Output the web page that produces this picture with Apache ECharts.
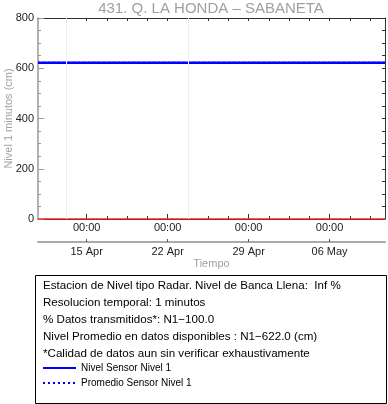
<!DOCTYPE html>
<html><head><meta charset="utf-8">
<script src="https://cdn.jsdelivr.net/npm/echarts@6/dist/echarts.min.js"></script>
<style>html,body{margin:0;padding:0;background:#fff}#c{width:388px;height:404px}</style>
</head><body><div id="c"></div>
<script>
const title = '431. Q. LA HONDA \u2013 SABANETA';
const times = ['2024-04-10T19:00Z','2024-04-11T19:00Z','2024-04-12T19:00Z','2024-04-13T19:00Z','2024-04-14T19:00Z','2024-04-15T19:00Z','2024-04-16T19:00Z','2024-04-17T19:00Z','2024-04-18T19:00Z','2024-04-19T19:00Z','2024-04-20T19:00Z','2024-04-21T19:00Z','2024-04-22T19:00Z','2024-04-23T19:00Z','2024-04-24T19:00Z','2024-04-25T19:00Z','2024-04-26T19:00Z','2024-04-27T19:00Z','2024-04-28T19:00Z','2024-04-29T19:00Z','2024-04-30T19:00Z','2024-05-01T19:00Z','2024-05-02T19:00Z','2024-05-03T19:00Z','2024-05-04T19:00Z','2024-05-05T19:00Z','2024-05-06T19:00Z','2024-05-07T19:00Z','2024-05-08T19:00Z','2024-05-09T19:00Z','2024-05-10T19:00Z'];
const nivel = [622,622,622,622,622,622,622,622,622,622,622,622,622,622,622,622,622,622,622,622,622,622,622,622,622,622,622,622,622,622,622];
const promedio = 622.0;
const bancaLlena = 0;
const majorTicks = ['2024-04-15T00:00Z','2024-04-22T00:00Z','2024-04-29T00:00Z','2024-05-06T00:00Z'];
const timeLabels = ['00:00','00:00','00:00','00:00'];
const dateLabels = ['15 Apr','22 Apr','29 Apr','06 May'];
const minorTicks = ['2024-04-13T06:00Z','2024-04-15T00:00Z','2024-04-16T18:00Z','2024-04-18T12:00Z','2024-04-20T06:00Z','2024-04-22T00:00Z','2024-04-23T18:00Z','2024-04-25T12:00Z','2024-04-27T06:00Z','2024-04-29T00:00Z','2024-04-30T18:00Z','2024-05-02T12:00Z','2024-05-04T06:00Z','2024-05-06T00:00Z','2024-05-07T18:00Z','2024-05-09T12:00Z'];
const gridDates = ['2024-04-13T06:00Z','2024-04-23T18:00Z'];
const infoLines = [
  'Estacion de Nivel tipo Radar. Nivel de Banca Llena:  Inf %',
  'Resolucion temporal: 1 minutos',
  '% Datos transmitidos*: N1\u2212100.0',
  'Nivel Promedio en datos disponibles : N1\u2212622.0 (cm)',
  '*Calidad de datos aun sin verificar exhaustivamente'
];
const seriesNames = ['Nivel Sensor Nivel 1','Promedio Sensor Nivel 1'];

const tms = times.map(t => Date.parse(t));
const xMin = tms[0], xMax = tms[tms.length - 1];
const majV = majorTicks.map(t => Date.parse(t));
const minV = minorTicks.map(t => Date.parse(t));
const FONT = '"Liberation Sans", Arial, sans-serif';

function xAx(extra) {
  return Object.assign({type: 'value', min: xMin, max: xMax, gridIndex: 0, splitLine: {show: false}}, extra);
}
const chart = echarts.init(document.getElementById('c'), null, {renderer: 'canvas'});
chart.setOption({
  animation: false,
  backgroundColor: '#fff',
  textStyle: {fontFamily: FONT},
  title: {text: title, left: 211, top: 1, textAlign: 'center', padding: 0,
    textStyle: {fontFamily: FONT, fontSize: 15, lineHeight: 15, fontWeight: 'normal', color: '#a0a0a0'}},
  grid: {left: 38, right: 3, top: 18, bottom: 185, containLabel: false, outerBoundsMode: 'none'},
  xAxis: [
    xAx({position: 'bottom', axisLine: {lineStyle: {color: '#333', width: 1}},
      axisTick: {inside: true, length: 5, customValues: majV, lineStyle: {color: '#333'}},
      axisLabel: {customValues: majV, margin: 3, fontSize: 11, color: '#222', fontFamily: FONT,
        formatter: v => timeLabels[majV.indexOf(v)] || ''}}),
    xAx({position: 'bottom', axisLine: {show: false},
      axisTick: {inside: true, length: 3, customValues: minV, lineStyle: {color: '#333'}},
      axisLabel: {show: false}}),
    xAx({position: 'top', axisLine: {lineStyle: {color: '#333', width: 1}},
      axisTick: {inside: true, length: 3, customValues: minV, lineStyle: {color: '#333'}},
      axisLabel: {show: false}}),
    xAx({position: 'bottom', offset: 23, axisLine: {lineStyle: {color: '#aaa', width: 2}},
      axisTick: {inside: true, length: 3, customValues: majV, lineStyle: {color: '#555'}},
      axisLabel: {customValues: majV, margin: 4, fontSize: 11, color: '#222', fontFamily: FONT,
        formatter: v => dateLabels[majV.indexOf(v)] || ''},
      name: 'Tiempo', nameLocation: 'middle', nameGap: 16, nameMoveOverlap: false,
      nameTextStyle: {fontSize: 11, color: '#a0a0a0', fontFamily: FONT}})
  ],
  yAxis: [
    {type: 'value', min: 0, max: 800, interval: 200, position: 'left',
      axisLine: {show: true, lineStyle: {color: '#999', width: 1.5}},
      axisTick: {show: true, inside: true, length: 6, lineStyle: {color: '#999'}},
      minorTick: {show: true, splitNumber: 4, length: 3, lineStyle: {color: '#999'}},
      splitLine: {show: false},
      axisLabel: {margin: 4, fontSize: 11, color: '#222', fontFamily: FONT},
      name: 'Nivel 1 minutos (cm)', nameLocation: 'middle', nameGap: 24, nameMoveOverlap: false,
      nameTextStyle: {fontSize: 11, color: '#a0a0a0', fontFamily: FONT}},
    {type: 'value', min: 0, max: 800, interval: 200, position: 'right',
      axisLine: {show: true, lineStyle: {color: '#333', width: 1}},
      axisTick: {show: true, inside: true, length: 3, lineStyle: {color: '#333'}},
      minorTick: {show: true, splitNumber: 4, length: 3, lineStyle: {color: '#333'}},
      splitLine: {show: false}, axisLabel: {show: false}}
  ],
  legend: {orient: 'vertical', left: 42, top: 363, padding: 0, itemWidth: 33, itemHeight: 10, itemGap: 5,
    data: seriesNames, selectedMode: false, itemStyle: {opacity: 0},
    textStyle: {fontSize: 10, color: '#000', fontFamily: FONT}},
  series: [
    {name: 'Banca', type: 'line', symbol: 'none', silent: true, z: 1,
      data: [[xMin, bancaLlena], [xMax, bancaLlena]],
      lineStyle: {color: '#ff2020', width: 1.5},
      markLine: {silent: true, symbol: 'none', label: {show: false},
        lineStyle: {color: '#eeeeee', width: 1, type: 'solid'},
        data: gridDates.map(d => ({xAxis: Date.parse(d)}))}},
    {name: seriesNames[1], type: 'line', symbol: 'none', z: 2,
      data: [[xMin, promedio], [xMax, promedio]],
      lineStyle: {color: '#0000ff', width: 2, type: [2, 3]}, itemStyle: {color: '#0000ff'}},
    {name: seriesNames[0], type: 'line', symbol: 'none', z: 3,
      data: tms.map((t, i) => [t, nivel[i]]),
      lineStyle: {color: '#0000ff', width: 2.5}, itemStyle: {color: '#0000ff'}}
  ],
  graphic: [
    {type: 'rect', left: 33, top: 273, shape: {width: 351, height: 128},
      style: {fill: 'none', stroke: '#000', lineWidth: 1}},
    {type: 'text', left: 43, top: 277,
      style: {text: infoLines.join('\n'), font: '11.6px ' + FONT, fill: '#000', lineHeight: 17}}
  ]
});
</script></body></html>
